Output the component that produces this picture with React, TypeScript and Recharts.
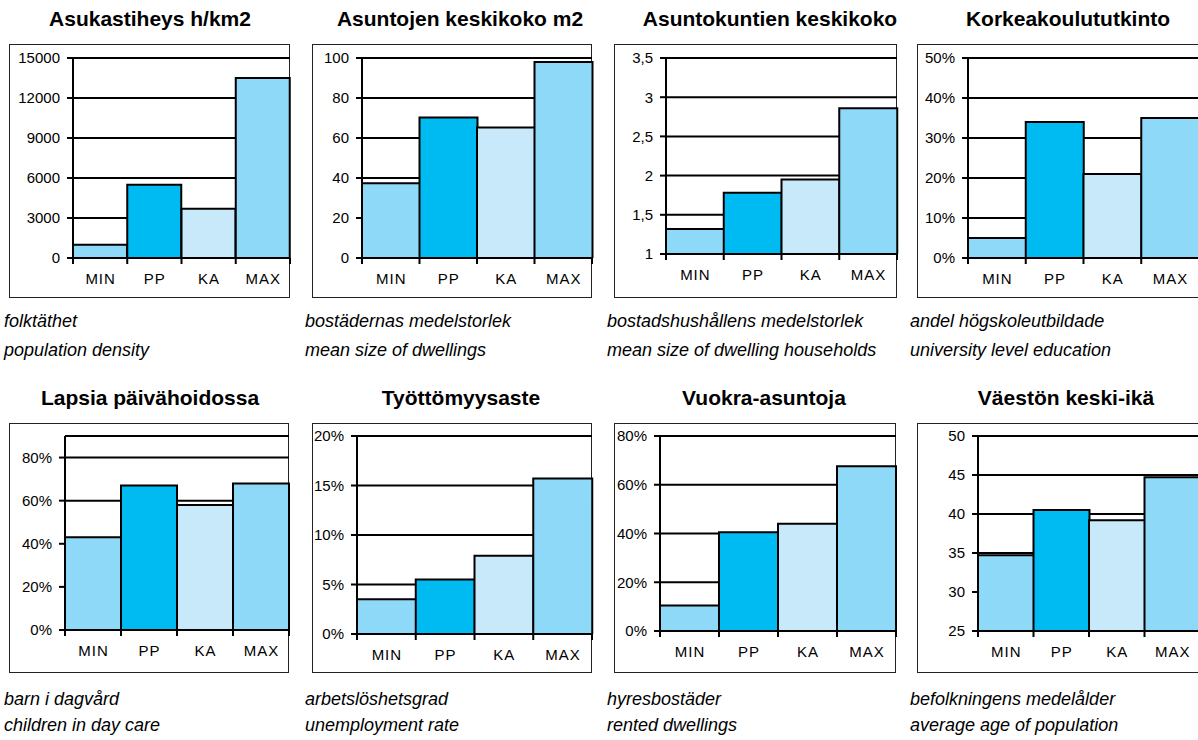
import React from 'react';
import {
  BarChart,
  Bar,
  XAxis,
  YAxis,
  CartesianGrid,
  Cell,
  ReferenceLine,
} from 'recharts';

const FONT = '"Liberation Sans", Arial, Helvetica, sans-serif';

// shared categories and bar colours
const categories = ['MIN', 'PP', 'KA', 'MAX'];
const barColors = ['#8ED8F8', '#00BBF2', '#C8E9FA', '#8ED8F8'];

// values
const densityValues = [1000, 5500, 3700, 13500];
const dwellingSizeValues = [37.4, 70.2, 65.2, 98];
const householdSizeValues = [1.32, 1.78, 1.95, 2.86];
const universityValues = [5, 34, 21, 35];
const dayCareValues = [43, 67, 58, 68];
const unemploymentValues = [3.5, 5.5, 7.9, 15.7];
const rentedValues = [10.5, 40.5, 44, 67.6];
const meanAgeValues = [34.7, 40.5, 39.2, 44.7];

// tick labels
const densityTicks = [0, 3000, 6000, 9000, 12000, 15000];
const dwellingSizeTicks = [0, 20, 40, 60, 80, 100];
const householdSizeTicks = [1, 1.5, 2, 2.5, 3, 3.5];
const universityTicks = [0, 10, 20, 30, 40, 50];
const dayCareTicks = [0, 20, 40, 60, 80];
const unemploymentTicks = [0, 5, 10, 15, 20];
const rentedTicks = [0, 20, 40, 60, 80];
const meanAgeTicks = [25, 30, 35, 40, 45, 50];

const plain = (v: number) => String(v);
const comma = (v: number) => String(v).replace('.', ',');
const pct = (v: number) => `${v}%`;

interface PanelDef {
  title: string;
  captions: [string, string];
  values: number[];
  ticks: number[];
  domain: [number, number];
  fmt: (v: number) => string;
  topLine?: number;
  row: 0 | 1;
  titleX: number;
  captionX: number;
  box: { left: number; right: number };
  plot: { left: number; top: number; right: number; bottom: number };
}

const rows = [
  { boxTop: 44, boxBottom: 298, titleY: 26, captionY: [327, 356] },
  { boxTop: 423, boxBottom: 673, titleY: 405, captionY: [705, 731] },
];

const panels: PanelDef[] = [
  {
    title: 'Asukastiheys h/km2',
    captions: ['folktäthet', 'population density'],
    values: densityValues,
    ticks: densityTicks,
    domain: [0, 15000],
    fmt: plain,
    row: 0,
    titleX: 150,
    captionX: 4,
    box: { left: 9, right: 290 },
    plot: { left: 73, top: 58, right: 290, bottom: 258 },
  },
  {
    title: 'Asuntojen keskikoko m2',
    captions: ['bostädernas medelstorlek', 'mean size of dwellings'],
    values: dwellingSizeValues,
    ticks: dwellingSizeTicks,
    domain: [0, 100],
    fmt: plain,
    row: 0,
    titleX: 460,
    captionX: 305,
    box: { left: 312, right: 592 },
    plot: { left: 362, top: 58, right: 592, bottom: 258 },
  },
  {
    title: 'Asuntokuntien keskikoko',
    captions: ['bostadshushållens medelstorlek', 'mean size of dwelling households'],
    values: householdSizeValues,
    ticks: householdSizeTicks,
    domain: [1, 3.5],
    fmt: comma,
    row: 0,
    titleX: 770,
    captionX: 607,
    box: { left: 614, right: 897 },
    plot: { left: 666, top: 58, right: 897, bottom: 254 },
  },
  {
    title: 'Korkeakoulututkinto',
    captions: ['andel högskoleutbildade', 'university level education'],
    values: universityValues,
    ticks: universityTicks,
    domain: [0, 50],
    fmt: pct,
    row: 0,
    titleX: 1068,
    captionX: 910,
    box: { left: 917, right: 1215 },
    plot: { left: 968, top: 58, right: 1199, bottom: 258 },
  },
  {
    title: 'Lapsia päivähoidossa',
    captions: ['barn i dagvård', 'children in day care'],
    values: dayCareValues,
    ticks: dayCareTicks,
    domain: [0, 90],
    fmt: pct,
    topLine: 90,
    row: 1,
    titleX: 150,
    captionX: 4,
    box: { left: 9, right: 289 },
    plot: { left: 65, top: 436, right: 289, bottom: 630 },
  },
  {
    title: 'Työttömyysaste',
    captions: ['arbetslöshetsgrad', 'unemployment rate'],
    values: unemploymentValues,
    ticks: unemploymentTicks,
    domain: [0, 20],
    fmt: pct,
    row: 1,
    titleX: 461,
    captionX: 305,
    box: { left: 312, right: 592 },
    plot: { left: 357, top: 436, right: 592, bottom: 634 },
  },
  {
    title: 'Vuokra-asuntoja',
    captions: ['hyresbostäder', 'rented dwellings'],
    values: rentedValues,
    ticks: rentedTicks,
    domain: [0, 80],
    fmt: pct,
    row: 1,
    titleX: 764,
    captionX: 607,
    box: { left: 614, right: 896 },
    plot: { left: 660, top: 436, right: 896, bottom: 631 },
  },
  {
    title: 'Väestön keski-ikä',
    captions: ['befolkningens medelålder', 'average age of population'],
    values: meanAgeValues,
    ticks: meanAgeTicks,
    domain: [25, 50],
    fmt: plain,
    row: 1,
    titleX: 1066,
    captionX: 910,
    box: { left: 917, right: 1215 },
    plot: { left: 978, top: 436, right: 1200, bottom: 631 },
  },
];

// category tick: label in the middle, tick marks on the band edges
const CatTick = (props: any) => {
  const { x, y, payload, index, band, count } = props;
  const left = x - band / 2;
  const right = x + band / 2;
  return (
    <g>
      <line x1={left} y1={y} x2={left} y2={y + 6} stroke="#000" strokeWidth={2} />
      {index === count - 1 && (
        <line x1={right} y1={y} x2={right} y2={y + 6} stroke="#000" strokeWidth={2} />
      )}
      <text
        x={x + 0.5}
        y={y + 26}
        textAnchor="middle"
        fontSize={15}
        fontFamily={FONT}
        letterSpacing={1}
        fill="#000"
      >
        {payload.value}
      </text>
    </g>
  );
};

const ValueTick = (props: any) => {
  const { x, y, payload, fmt } = props;
  return (
    <text
      x={x}
      y={y}
      dy="0.36em"
      textAnchor="end"
      fontSize={15}
      fontFamily={FONT}
      fill="#000"
    >
      {fmt(payload.value)}
    </text>
  );
};

const SmallChart = ({ p }: { p: PanelDef }) => {
  const row = rows[p.row];
  const width = p.plot.right - p.box.left + 2;
  const height = row.boxBottom - row.boxTop;
  const band = (p.plot.right - p.plot.left) / categories.length;
  const data = categories.map((cat, i) => ({ cat, value: p.values[i] }));

  return (
    <>
      <div
        style={{
          position: 'absolute',
          left: p.box.left,
          top: row.boxTop,
          width: p.box.right - p.box.left,
          height,
          border: '1.5px solid #222',
          boxSizing: 'border-box',
        }}
      />
      <div style={{ position: 'absolute', left: p.box.left, top: row.boxTop }}>
        <BarChart
          width={width}
          height={height}
          data={data}
          margin={{ top: p.plot.top - row.boxTop, right: 2, bottom: 0, left: 0 }}
          barCategoryGap={0}
          barGap={0}
        >
          <CartesianGrid vertical={false} stroke="#000" strokeWidth={2} />
          <XAxis
            dataKey="cat"
            height={row.boxBottom - p.plot.bottom}
            tickSize={0}
            tickMargin={0}
            tickLine={false}
            interval={0}
            axisLine={{ stroke: '#000', strokeWidth: 2 }}
            tick={(t: any) => <CatTick {...t} band={band} count={categories.length} />}
          />
          <YAxis
            type="number"
            domain={p.domain}
            ticks={p.ticks}
            interval={0}
            allowDataOverflow
            width={p.plot.left - p.box.left}
            tickSize={6}
            tickMargin={7}
            axisLine={{ stroke: '#000', strokeWidth: 2 }}
            tickLine={{ stroke: '#000', strokeWidth: 2 }}
            tick={(t: any) => <ValueTick {...t} fmt={p.fmt} />}
          />
          {p.topLine !== undefined && (
            <ReferenceLine y={p.topLine} stroke="#000" strokeWidth={2} />
          )}
          <Bar dataKey="value" stroke="#000" strokeWidth={2} isAnimationActive={false}>
            {data.map((d, i) => (
              <Cell key={d.cat} fill={barColors[i]} />
            ))}
          </Bar>
        </BarChart>
      </div>
    </>
  );
};

export default function App() {
  return (
    <div
      style={{
        position: 'absolute',
        left: 0,
        top: 0,
        width: 1198,
        height: 740,
        overflow: 'hidden',
        background: '#fff',
        fontFamily: FONT,
      }}
    >
      <svg
        width={1198}
        height={740}
        style={{ position: 'absolute', left: 0, top: 0, pointerEvents: 'none' }}
      >
        {panels.map((p) => {
          const row = rows[p.row];
          return (
            <g key={p.title}>
              <text
                x={p.titleX}
                y={row.titleY}
                textAnchor="middle"
                fontSize={21}
                fontWeight="bold"
                fontFamily={FONT}
                fill="#000"
              >
                {p.title}
              </text>
              {p.captions.map((c, i) => (
                <text
                  key={c}
                  x={p.captionX}
                  y={row.captionY[i]}
                  fontSize={18}
                  fontStyle="italic"
                  fontFamily={FONT}
                  fill="#000"
                >
                  {c}
                </text>
              ))}
            </g>
          );
        })}
      </svg>
      {panels.map((p) => (
        <SmallChart key={p.title} p={p} />
      ))}
    </div>
  );
}
